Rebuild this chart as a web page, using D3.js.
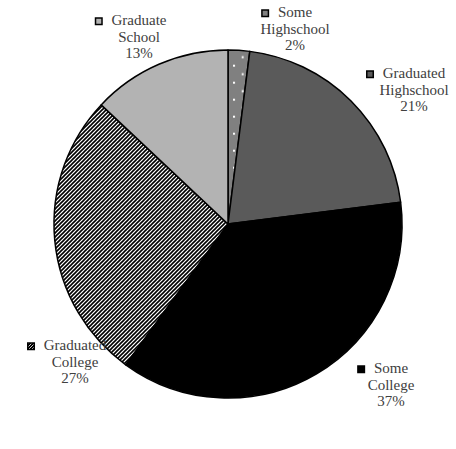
<!DOCTYPE html>
<html><head><meta charset="utf-8">
<script src="https://cdn.jsdelivr.net/npm/d3@7"></script>
<style>body{margin:0;background:#fff}</style>
</head><body>
<svg id="c" width="456" height="449"></svg>
<script>
const categories = ["Some Highschool","Graduated Highschool","Some College","Graduated College","Graduate School"];
const labelLines = [["Some","Highschool"],["Graduated","Highschool"],["Some","College"],["Graduated","College"],["Graduate","School"]];
const values = [2, 21, 37, 27, 13];
const fills = ["url(#dots)","#5a5a5a","#000000","url(#diag)","#b3b3b3"];
const legendFills = ["#808080","#5a5a5a","#000000","url(#diagS)","#b3b3b3"];
const labelPos = [[295,17],[414,78],[391,373],[75,350],[139,25]];

const cx = 228, cy = 224, r = 174;
const svg = d3.select("#c");
const defs = svg.append("defs");
const dots = defs.append("pattern").attr("id","dots").attr("patternUnits","userSpaceOnUse")
  .attr("x", 233 - cx).attr("y", 64.7 - cy)
  .attr("width",17.4).attr("height",17);
dots.append("rect").attr("width",17.4).attr("height",17).attr("fill","#808080");
dots.append("rect").attr("x",0).attr("y",0).attr("width",2).attr("height",2).attr("fill","#fff");
dots.append("rect").attr("x",8.7).attr("y",8.5).attr("width",2).attr("height",2).attr("fill","#fff");
const diag = defs.append("pattern").attr("id","diag").attr("patternUnits","userSpaceOnUse")
  .attr("width",4).attr("height",4);
diag.append("rect").attr("width",4).attr("height",4).attr("fill","#fff");
diag.append("path").attr("d","M-1,1 L1,-1 M0,4 L4,0 M3,5 L5,3").attr("stroke","#000").attr("stroke-width",1.6);
const diagS = defs.append("pattern").attr("id","diagS").attr("patternUnits","userSpaceOnUse")
  .attr("width",3).attr("height",3);
diagS.append("rect").attr("width",3).attr("height",3).attr("fill","#000");
diagS.append("path").attr("d","M0,3 L3,0").attr("stroke","#fff").attr("stroke-width",0.8);

const pie = d3.pie().sort(null).value(d => d)(values);
const arc = d3.arc().innerRadius(0).outerRadius(r);
const g = svg.append("g").attr("transform",`translate(${cx},${cy})`);
g.selectAll("path").data(pie).join("path")
  .attr("d", arc)
  .attr("fill", (d,i) => fills[i])
  .attr("stroke","#000").attr("stroke-width",1.5).attr("stroke-linejoin","round");

const lab = svg.append("g");
categories.forEach((c,i) => {
  const [x,y] = labelPos[i];
  const lines = labelLines[i].concat([values[i] + "%"]);
  const t = lab.append("text").attr("text-anchor","middle")
    .style("font-family","'Liberation Serif', 'DejaVu Serif', serif")
    .attr("font-size",15).attr("fill","#404040");
  lines.forEach((l,j) => {
    t.append("tspan").attr("x",x).attr("y",y + j*16.5).text(l);
  });
  const w = t.select("tspan").node().getComputedTextLength();
  lab.append("rect").attr("x", x - w/2 - 16).attr("y", y - 7).attr("width",6.5).attr("height",6.5)
    .attr("fill", legendFills[i]).attr("stroke","#000").attr("stroke-width",1.5);
});
</script>
</body></html>
